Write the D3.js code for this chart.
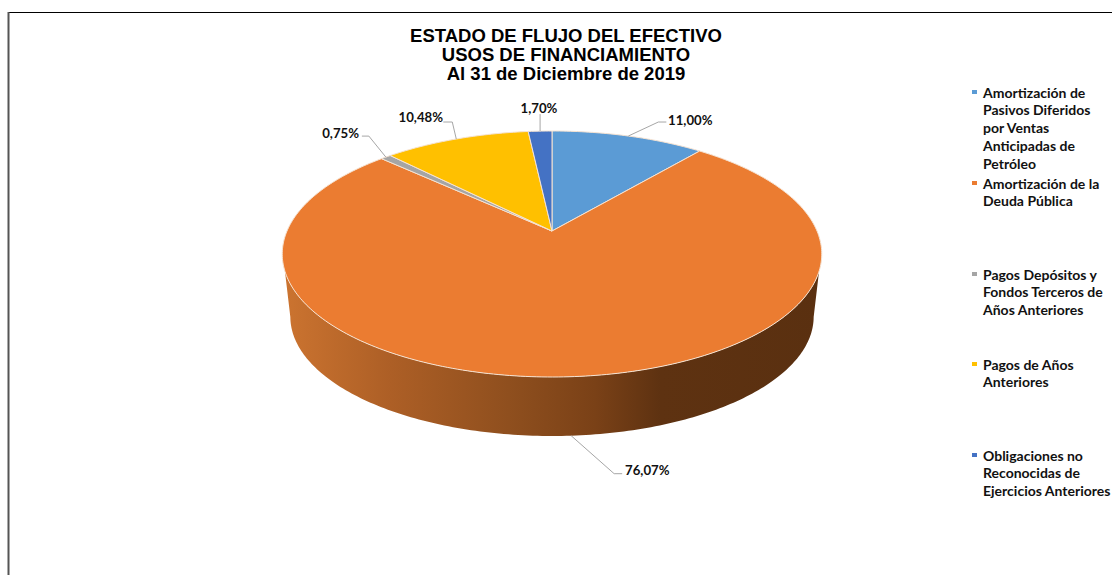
<!DOCTYPE html>
<html><head><meta charset="utf-8">
<script src="https://cdnjs.cloudflare.com/ajax/libs/d3/7.8.5/d3.min.js"></script>
<style>html,body{margin:0;padding:0;background:#fff;overflow:hidden}svg{display:block}</style>
</head><body><svg id="c" width="1112" height="575"></svg>
<script>
const titleLines = ["ESTADO DE FLUJO DEL EFECTIVO","USOS DE FINANCIAMIENTO","Al 31 de Diciembre de 2019"];
const categories = ["Amortización de Pasivos Diferidos por Ventas Anticipadas de Petróleo","Amortización de la Deuda Pública","Pagos Depósitos y Fondos Terceros de Años Anteriores","Pagos de Años Anteriores","Obligaciones no Reconocidas de Ejercicios Anteriores"];
const values = [11.00,76.07,0.75,10.48,1.70];
const valueLabels = ["11,00%","76,07%","0,75%","10,48%","1,70%"];
const colors = ["#5b9bd5","#eb7c31","#a5a5a5","#ffc000","#4472c4"];
const legendLines = [
 ["Amortización de","Pasivos Diferidos","por Ventas","Anticipadas de","Petróleo"],
 ["Amortización de la","Deuda Pública"],
 ["Pagos Depósitos y","Fondos Terceros de","Años Anteriores"],
 ["Pagos de Años","Anteriores"],
 ["Obligaciones no","Reconocidas de","Ejercicios Anteriores"]];
const legendFirstY = [93,184,275,365,456];
const sideStops = [[0,"#cc7430"],[0.2,"#ad5f26"],[0.42,"#8f4f1e"],[0.58,"#7a4117"],[0.7,"#5e3211"],[1,"#5a3010"]];

const svg = d3.select("#c");
const cx=552, cy=231, a=265, b=118.7, k=0.187, depth=63.4, shrink=0.97;
const top_ = t=>{const u=Math.sin(t),v=Math.cos(t),d=1+k*v;return [cx+a*u/d, cy-b*v/d];};
const bot = t=>{const u=Math.sin(t),v=Math.cos(t),d=1+k*v;return [cx+shrink*a*u/d, cy+depth-shrink*b*v/d];};
const line = d3.line();
const arcs = d3.pie().sort(null).value(d=>d)(values);

// frame
svg.append("line").attr("x1",8).attr("y1",12.5).attr("x2",1112).attr("y2",12.5).attr("stroke","#000").attr("stroke-width",1);
svg.append("line").attr("x1",8.5).attr("y1",12).attr("x2",8.5).attr("y2",575).attr("stroke","#555").attr("stroke-width",2);

// side wall
const grad = svg.append("defs").append("linearGradient").attr("id","side").attr("gradientUnits","userSpaceOnUse")
  .attr("x1",cx-270).attr("x2",cx+270).attr("y1",0).attr("y2",0);
sideStops.forEach(s=>grad.append("stop").attr("offset",s[0]).attr("stop-color",s[1]));
const sweep=m=>d3.range(0,181).map(i=>Math.PI/2+m+(Math.PI-2*m)*i/180);
svg.append("path").attr("d",line(sweep(0.326).map(top_).concat(sweep(0.19).reverse().map(bot)))+"Z").attr("fill","url(#side)");

// top face
arcs.forEach((s,i)=>{
  const n=Math.max(2,Math.ceil((s.endAngle-s.startAngle)*60));
  const pts=d3.range(n+1).map(j=>top_(s.startAngle+(s.endAngle-s.startAngle)*j/n));
  svg.append("path").attr("d",line([[cx,cy],...pts])+"Z").attr("fill",colors[i]).attr("stroke","#f6e3d2").attr("stroke-width",1).attr("stroke-linejoin","round");
});

// leaders & labels: [elbow dx, dy, end dx, text x, text y]
const leaderLayout=[[30,-14,38,668,120],[43,38,51,625,470],[-17,-21,-24,359,133],[-4,-17,-13,443,117],[0,-17,0,539,108]];
arcs.forEach((s,i)=>{
  const m=(s.startAngle+s.endAngle)/2, p=(i===1?bot:top_)(m), L=leaderLayout[i];
  const e=[p[0]+L[0],p[1]+L[1]], f=[p[0]+L[2],p[1]+L[1]];
  svg.append("path").attr("d",line([p,e,f])).attr("fill","none").attr("stroke","#a6a6a6").attr("stroke-width",1);
  svg.append("text").attr("x",L[3]).attr("y",L[4]).attr("dy","0.35em")
    .attr("text-anchor",(i===2||i===3)?"end":(i===4?"middle":"start"))
    .attr("font-family","Lato, 'Open Sans', sans-serif").attr("font-weight",700).attr("font-size",13.2).attr("fill","#111").text(valueLabels[i]);
});

// title
svg.append("text").attr("text-anchor","middle").attr("font-family","'Liberation Sans',Arial,sans-serif").attr("font-weight",700).attr("font-size",18.5).attr("fill","#000")
 .selectAll("tspan").data(titleLines).join("tspan").attr("x",566).attr("y",(d,i)=>41.7+i*19).text(d=>d);

// legend
legendLines.forEach((ls,i)=>{
  svg.append("rect").attr("x",972).attr("y",legendFirstY[i]-3).attr("width",5).attr("height",4).attr("fill",colors[i]);
  svg.append("text").attr("font-family","Lato, 'Open Sans', sans-serif").attr("font-weight",700).attr("font-size",14).attr("fill","#111")
   .selectAll("tspan").data(ls).join("tspan").attr("x",983).attr("y",(d,j)=>legendFirstY[i]+4.5+j*17.8).text(d=>d);
});
</script></body></html>
